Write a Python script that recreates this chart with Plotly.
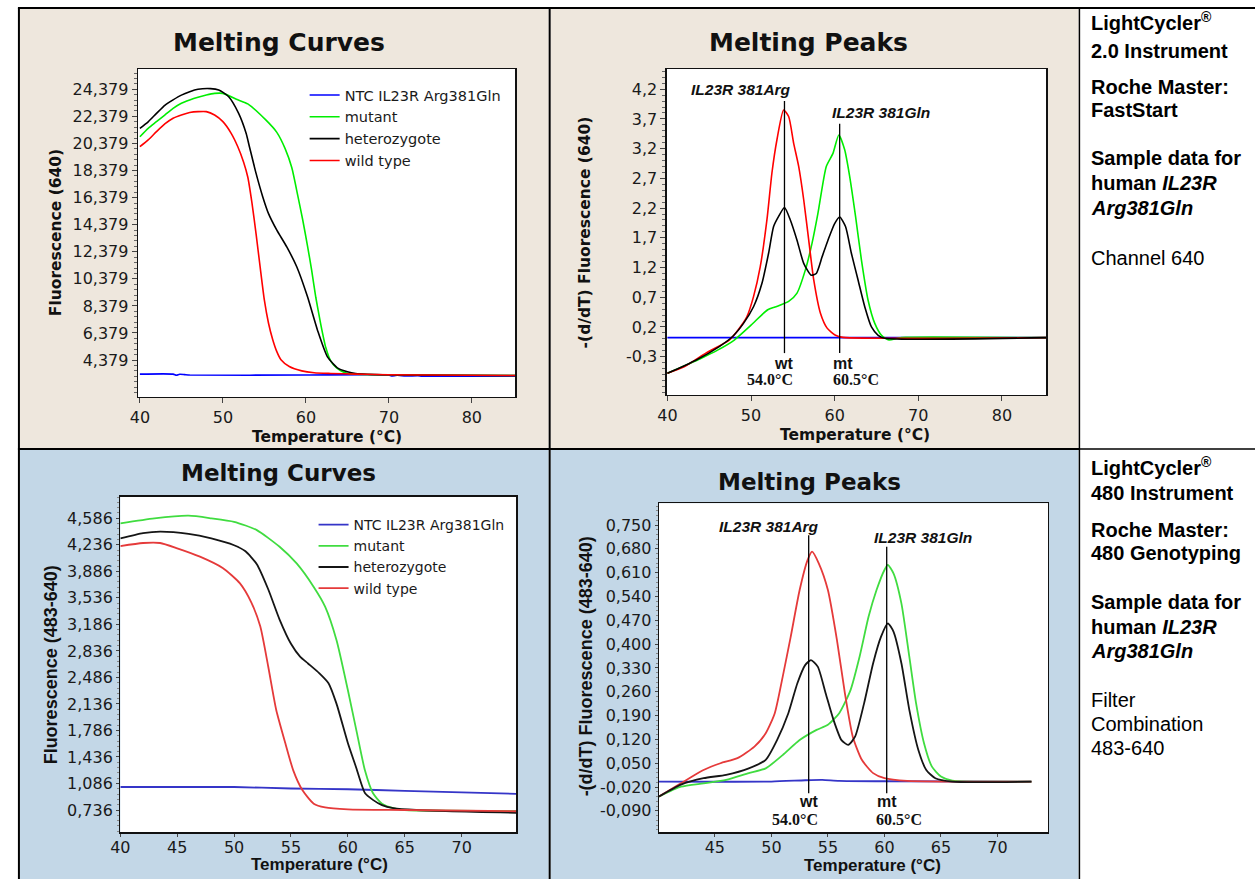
import plotly.graph_objects as go

# ---------------- DATA ----------------
legend_names = ["NTC IL23R Arg381Gln", "mutant", "heterozygote", "wild type"]

# Top-left: LightCycler 2.0 melting curves (Fluorescence 640, thousands)
tl_ntc_t = [40, 44, 44.4, 44.8, 45.4, 46, 60, 70, 70.3, 71, 72, 73.5, 74, 85.25]
tl_ntc_v = [3.34, 3.34, 3.26, 3.33, 3.3, 3.27, 3.27, 3.27, 3.2, 3.26, 3.2, 3.22, 3.19, 3.19]
tl_mut_t = [40, 41, 42, 43, 44, 45, 46, 47, 48, 49, 50, 51.8, 53, 55.2, 56.5, 57.5, 58.3, 59.0,
            59.6, 60.2, 60.7, 61.2, 61.8, 62.4, 63.0, 63.7, 64.5, 65.5, 70, 85.25]
tl_mut_v = [20.88, 21.5, 21.99, 22.48, 22.97, 23.35, 23.59, 23.79, 23.96, 24.08, 24.08, 23.6, 23.3,
            22.1, 21.2, 20.0, 18.6, 16.6, 14.8, 12.8, 11.0, 9.0, 7.0, 5.3, 4.3, 3.8, 3.5, 3.35,
            3.29, 3.24]
tl_het_t = [40, 41, 42, 43, 44, 45, 46, 47, 48.5, 49.5, 50.7, 51.9, 52.8, 53.2, 54.0, 54.8, 55.5,
            56.5, 57.7, 58.9, 60.2, 61.4, 62.6, 63.9, 65.0, 66.0, 70, 85.25]
tl_het_v = [21.5, 21.98, 22.6, 23.2, 23.6, 23.95, 24.2, 24.38, 24.43, 24.33, 23.83, 22.6, 21.13,
            20.14, 18.17, 16.45, 15.2, 13.98, 12.74, 11.27, 9.05, 6.59, 4.62, 3.76, 3.51, 3.39,
            3.29, 3.24]
tl_wt_t = [40, 41, 42, 43, 44, 45, 46, 47, 48, 49, 50, 51, 51.8, 52.5, 53, 53.5, 54, 54.5, 55,
           55.5, 56, 56.5, 57, 58, 59.5, 61, 63, 66, 70, 85.25]
tl_wt_v = [20.14, 20.64, 21.25, 21.82, 22.24, 22.48, 22.66, 22.73, 22.73, 22.48, 21.99, 21.13,
           20.14, 19.0, 17.9, 16.0, 13.7, 11.2, 8.8, 7.1, 5.9, 5.0, 4.4, 3.9, 3.58, 3.44, 3.39,
           3.34, 3.29, 3.24]
tl_ytick_vals = [4.379, 6.379, 8.379, 10.379, 12.379, 14.379, 16.379, 18.379, 20.379, 22.379, 24.379]
tl_ytick_text = ["4,379", "6,379", "8,379", "10,379", "12,379", "14,379", "16,379", "18,379",
                 "20,379", "22,379", "24,379"]
top_xtick_vals = [40, 50, 60, 70, 80]

# Top-right: LightCycler 2.0 melting peaks
tr_ntc_t = [40, 85.3]
tr_ntc_v = [0.02, 0.02]
tr_mut_t = [40, 44, 46, 48, 50, 52, 53, 54.5, 55.5, 56.5, 57.3, 58, 59, 59.8, 60.5, 61.2, 61.8,
            62.5, 63.2, 64, 64.8, 65.6, 66.5, 67.5, 68.5, 85.3]
tr_mut_v = [-0.58, -0.33, -0.19, -0.02, 0.23, 0.49, 0.54, 0.63, 0.77, 1.16, 1.61, 2.11, 2.90, 3.12,
            3.43, 3.18, 2.73, 2.06, 1.33, 0.65, 0.26, 0.06, -0.02, 0.01, 0.025, 0.02]
tr_het_t = [40, 43.4, 46.2, 47.8, 49.1, 50.3, 51.3, 52.1, 52.7, 53.3, 54.0, 54.7, 55.5, 56.3, 57.2,
            57.8, 58.5, 59.2, 60.0, 60.6, 61.3, 62.0, 62.8, 63.6, 64.4, 65.2, 66.0, 85.3]
tr_het_v = [-0.58, -0.36, -0.13, 0.04, 0.26, 0.54, 0.93, 1.44, 1.89, 2.06, 2.21, 2.0, 1.66, 1.27,
            1.07, 1.10, 1.38, 1.66, 1.94, 2.05, 1.89, 1.44, 0.99, 0.54, 0.20, 0.06, 0.01, 0.02]
tr_wt_t = [40, 42, 44.6, 47.4, 48.45, 49.5, 50.3, 51.1, 51.9, 52.5, 53.1, 53.9, 54.5, 55.1, 55.7,
           56.3, 56.9, 57.5, 58.3, 59.1, 60.1, 61.0, 85.3]
tr_wt_v = [-0.58, -0.47, -0.24, -0.02, 0.15, 0.37, 0.71, 1.21, 2.0, 2.79, 3.35, 3.85, 3.74, 3.29,
           2.9, 2.34, 1.66, 0.99, 0.43, 0.18, 0.06, 0.025, 0.02]
tr_ytick_vals = [-0.3, 0.2, 0.7, 1.2, 1.7, 2.2, 2.7, 3.2, 3.7, 4.2]
tr_ytick_text = ["-0,3", "0,2", "0,7", "1,2", "1,7", "2,2", "2,7", "3,2", "3,7", "4,2"]
tr_peak_x = [54.0, 60.6]
tr_peak_top = [4.0, 3.62]
tr_peak_bottom = [-0.24, -0.24]

# Bottom-left: LightCycler 480 melting curves (Fluorescence 483-640)
bl_ntc_t = [40, 50, 55, 60, 65, 70, 74.8]
bl_ntc_v = [1.04, 1.04, 1.02, 1.01, 0.99, 0.97, 0.95]
bl_mut_t = [40, 43, 46, 48, 50, 52, 54, 55.5, 57, 58, 59, 60, 60.8, 61.5, 62.2, 63, 64, 65, 66, 74.8]
bl_mut_v = [4.52, 4.586, 4.62, 4.586, 4.54, 4.43, 4.21, 3.99, 3.68, 3.42, 2.98, 2.32, 1.75, 1.26,
            0.96, 0.82, 0.76, 0.736, 0.73, 0.72]
bl_het_t = [40, 42, 43.5, 46, 48, 50, 51, 52, 53, 54, 55, 55.8, 56.5, 57.5, 58.3, 59, 60, 60.7,
            61.5, 62.2, 63, 64, 66, 74.8]
bl_het_v = [4.32, 4.39, 4.41, 4.38, 4.32, 4.23, 4.15, 3.98, 3.65, 3.25, 2.93, 2.76, 2.67, 2.54,
            2.41, 2.14, 1.62, 1.31, 0.96, 0.87, 0.80, 0.76, 0.736, 0.70]
bl_wt_t = [40, 42, 43.5, 45, 47, 49, 50.5, 51.5, 52.3, 53, 53.7, 54.5, 55.2, 56, 57, 58, 60, 65, 74.8]
bl_wt_v = [4.22, 4.26, 4.26, 4.19, 4.08, 3.93, 3.73, 3.48, 3.16, 2.63, 2.06, 1.62, 1.26, 1.0, 0.82,
           0.77, 0.745, 0.736, 0.72]
bl_ytick_vals = [0.736, 1.086, 1.436, 1.786, 2.136, 2.486, 2.836, 3.186, 3.536, 3.886, 4.236, 4.586]
bl_ytick_text = ["0,736", "1,086", "1,436", "1,786", "2,136", "2,486", "2,836", "3,186", "3,536",
                 "3,886", "4,236", "4,586"]
bl_xtick_vals = [40, 45, 50, 55, 60, 65, 70]

# Bottom-right: LightCycler 480 melting peaks
br_ntc_t = [40.06, 50, 53, 54.5, 56, 60, 73]
br_ntc_v = [-0.004, -0.004, 0.0, 0.001, -0.002, -0.003, -0.004]
br_mut_t = [40.06, 42, 44, 46, 48, 49.5, 51, 52.5, 54, 55, 56, 57, 57.8, 58.6, 59.3, 60, 60.3, 60.8,
            61.5, 62.2, 62.8, 63.5, 64.2, 65, 66, 73]
br_mut_v = [-0.048, -0.019, -0.009, 0.001, 0.021, 0.035, 0.074, 0.118, 0.148, 0.163, 0.197, 0.265,
            0.363, 0.481, 0.559, 0.618, 0.633, 0.608, 0.52, 0.363, 0.226, 0.109, 0.04, 0.011,
            -0.001, -0.004]
br_het_t = [40.06, 42, 44, 46, 48, 49.5, 50.5, 51.5, 52.3, 53, 53.5, 54.1, 54.8, 55.5, 56.2, 56.8,
            57.4, 58.2, 59, 59.7, 60.3, 60.8, 61.5, 62.2, 63, 63.7, 64.5, 66, 73]
br_het_v = [-0.048, -0.013, 0.006, 0.016, 0.035, 0.06, 0.118, 0.197, 0.285, 0.339, 0.353, 0.334,
            0.256, 0.177, 0.118, 0.104, 0.128, 0.226, 0.344, 0.422, 0.461, 0.437, 0.344, 0.207,
            0.089, 0.03, 0.006, -0.004, -0.004]
br_wt_t = [40.06, 42, 44, 45.5, 47, 48.5, 49.5, 50.3, 51, 51.7, 52.5, 53.2, 53.6, 54.2, 55, 55.8,
           56.5, 57.2, 58, 59, 60, 62, 73]
br_wt_v = [-0.048, -0.009, 0.03, 0.05, 0.065, 0.099, 0.138, 0.197, 0.304, 0.42, 0.559, 0.647, 0.672,
           0.637, 0.559, 0.412, 0.256, 0.128, 0.06, 0.021, 0.006, -0.002, -0.004]
br_ytick_vals = [-0.09, -0.02, 0.05, 0.12, 0.19, 0.26, 0.33, 0.40, 0.47, 0.54, 0.61, 0.68, 0.75]
br_ytick_text = ["-0,090", "-0,020", "0,050", "0,120", "0,190", "0,260", "0,330", "0,400", "0,470",
                 "0,540", "0,610", "0,680", "0,750"]
br_xtick_vals = [45, 50, 55, 60, 65, 70]
br_peak_x = [53.3, 60.2]
br_peak_top = [0.72, 0.686]
br_peak_bottom = [-0.038, -0.038]

peak_labels = ["IL23R 381Arg", "IL23R 381Gln"]
geno_labels = ["wt", "mt"]
tm_labels = ["54.0°C", "60.5°C"]

# ---------------- LAYOUT HELPERS ----------------
W, H = 1255, 879


def fx(px):
    return px / W


def fy(py):
    return 1 - py / H


BEIGE = "#EEE7DD"
BLUEBG = "#C3D7E7"
TOP_COLORS = ["#0000FF", "#00EE00", "#000000", "#FF0000"]
BOT_COLORS = ["#3535C8", "#40DC40", "#151515", "#E53A3A"]

fig = go.Figure()


def add_series(ts, vs, colors, xa, ya, legend, show, width):
    for t, v, c, n in zip(ts, vs, colors, legend_names):
        fig.add_trace(go.Scatter(
            x=t, y=v, mode="lines", name=n, xaxis=xa, yaxis=ya,
            line=dict(color=c, width=width, shape="spline", smoothing=0.6),
            showlegend=show, legend=legend, hoverinfo="skip"))


add_series([tl_ntc_t, tl_mut_t, tl_het_t, tl_wt_t], [tl_ntc_v, tl_mut_v, tl_het_v, tl_wt_v],
           TOP_COLORS, "x", "y", "legend", True, 1.6)
for t, v, c, n in [(tr_ntc_t, tr_ntc_v, TOP_COLORS[0], legend_names[0]),
                   (tr_mut_t, tr_mut_v, TOP_COLORS[1], legend_names[1]),
                   (tr_wt_t, tr_wt_v, TOP_COLORS[3], legend_names[3]),
                   (tr_het_t, tr_het_v, TOP_COLORS[2], legend_names[2])]:
    fig.add_trace(go.Scatter(x=t, y=v, mode="lines", name=n, xaxis="x2", yaxis="y2",
                             line=dict(color=c, width=1.6, shape="spline", smoothing=0.6),
                             showlegend=False, hoverinfo="skip"))
add_series([bl_ntc_t, bl_mut_t, bl_het_t, bl_wt_t], [bl_ntc_v, bl_mut_v, bl_het_v, bl_wt_v],
           BOT_COLORS, "x3", "y3", "legend2", True, 1.8)
for t, v, c, n in [(br_ntc_t, br_ntc_v, BOT_COLORS[0], legend_names[0]),
                   (br_mut_t, br_mut_v, BOT_COLORS[1], legend_names[1]),
                   (br_wt_t, br_wt_v, BOT_COLORS[3], legend_names[3]),
                   (br_het_t, br_het_v, BOT_COLORS[2], legend_names[2])]:
    fig.add_trace(go.Scatter(x=t, y=v, mode="lines", name=n, xaxis="x4", yaxis="y4",
                             line=dict(color=c, width=1.8, shape="spline", smoothing=0.6),
                             showlegend=False, hoverinfo="skip"))

# vertical peak marker lines
for xs, tops, bots, xa, ya in [(tr_peak_x, tr_peak_top, tr_peak_bottom, "x2", "y2"),
                               (br_peak_x, br_peak_top, br_peak_bottom, "x4", "y4")]:
    for xv, tp, bt in zip(xs, tops, bots):
        fig.add_trace(go.Scatter(x=[xv, xv], y=[bt, tp], mode="lines", xaxis=xa, yaxis=ya,
                                 line=dict(color="#000000", width=1.3), showlegend=False,
                                 hoverinfo="skip"))

TICKFONT = dict(family="DejaVu Sans", size=16, color="#1a1a1a")


def axis(domain, rng, anchor, **kw):
    d = dict(domain=domain, range=rng, anchor=anchor, showgrid=False, zeroline=False,
             showline=True, mirror=True, linecolor="#111111", linewidth=1.3,
             ticks="outside", ticklen=5, tickcolor="#444444", tickfont=TICKFONT,
             fixedrange=True)
    d.update(kw)
    return d


# plot area pixel boxes (window pixels)
TL = (129, 509.5, 69, 397)
TR = (662, 1044.8, 69, 395)
BL = (111.2, 510.3, 496.7, 832.3)
BR = (654.2, 1046.5, 503.3, 832.3)


def dom(box):
    x0, x1, y0, y1 = box
    return [fx(x0), fx(x1)], [fy(y1), fy(y0)]


tlx, tly = dom(TL)
trx, try_ = dom(TR)
blx, bly = dom(BL)
brx, bry = dom(BR)

fig.update_layout(
    width=W, height=H, autosize=False,
    margin=dict(l=0, r=0, t=0, b=0),
    paper_bgcolor="white", plot_bgcolor="rgba(0,0,0,0)",
    hovermode=False,
    xaxis=axis(tlx, [39.77, 85.25], "y", tickmode="array", tickvals=top_xtick_vals),
    yaxis=axis(tly, [1.65, 25.88], "x", tickmode="array", tickvals=tl_ytick_vals,
               ticktext=tl_ytick_text,
               minor=dict(ticks="outside", ticklen=3, tick0=0.379, dtick=0.4, tickcolor="#666")),
    xaxis2=axis(trx, [39.92, 85.33], "y2", tickmode="array", tickvals=top_xtick_vals),
    yaxis2=axis(try_, [-0.945, 4.54], "x2", tickmode="array", tickvals=tr_ytick_vals,
                ticktext=tr_ytick_text,
                minor=dict(ticks="outside", ticklen=3, tick0=0.2, dtick=0.1, tickcolor="#666")),
    xaxis3=axis(blx, [40, 74.8], "y3", tickmode="array", tickvals=bl_xtick_vals, ticklen=3,
                ticklabelstandoff=-3),
    yaxis3=axis(bly, [0.442, 4.871], "x3", tickmode="array", tickvals=bl_ytick_vals,
                ticktext=bl_ytick_text, ticklen=3,
                minor=dict(ticks="outside", ticklen=2, tick0=0.036, dtick=0.07, tickcolor="#888")),
    xaxis4=axis(brx, [40.06, 74.48], "y4", tickmode="array", tickvals=br_xtick_vals, ticklen=3,
                ticklabelstandoff=-3),
    yaxis4=axis(bry, [-0.153, 0.814], "x4", tickmode="array", tickvals=br_ytick_vals,
                ticktext=br_ytick_text, ticklen=3,
                minor=dict(ticks="outside", ticklen=2, tick0=0.05, dtick=0.014, tickcolor="#888")),
    legend=dict(x=fx(297), y=fy(79), xanchor="left", yanchor="top", bgcolor="rgba(0,0,0,0)",
                font=dict(family="DejaVu Sans", size=14.5, color="#1a1a1a"),
                itemwidth=30, tracegroupgap=0),
    legend2=dict(x=fx(306), y=fy(509), xanchor="left", yanchor="top", bgcolor="rgba(0,0,0,0)",
                 font=dict(family="DejaVu Sans", size=14, color="#1a1a1a"),
                 itemwidth=30, tracegroupgap=0),
    showlegend=True,
)

# ---------------- SHAPES (cells, plot backgrounds, borders) ----------------
shapes = []


def rect(x0, y0, x1, y1, color):
    shapes.append(dict(type="rect", xref="paper", yref="paper", x0=fx(x0), x1=fx(x1),
                       y0=fy(y1), y1=fy(y0), fillcolor=color, line=dict(width=0),
                       layer="below"))


def hline(x0, x1, y, w):
    shapes.append(dict(type="line", xref="paper", yref="paper", x0=fx(x0), x1=fx(x1),
                       y0=fy(y), y1=fy(y), line=dict(color="black", width=w), layer="above"))


def vline(x, y0, y1, w):
    shapes.append(dict(type="line", xref="paper", yref="paper", x0=fx(x), x1=fx(x),
                       y0=fy(y0), y1=fy(y1), line=dict(color="black", width=w), layer="above"))


rect(10, 9, 543, 448, BEIGE)
rect(545, 9, 1077, 448, BEIGE)
rect(10, 450, 543, 879, BLUEBG)
rect(545, 450, 1077, 879, BLUEBG)
for b in (TL, TR, BL, BR):
    rect(b[0], b[2], b[1], b[3], "white")

hline(8, 1255, 8, 2)
vline(9, 8, 879, 2)
vline(544, 8, 879, 2)
hline(8, 1078, 449, 2)
hline(1078, 1255, 449, 1.3)
vline(1078, 8, 879, 1.5)
fig.update_layout(shapes=shapes)

# ---------------- ANNOTATIONS ----------------
ann = []


def text(x, y, s, size, family="DejaVu Sans", color="#111111", xanchor="center",
         yanchor="middle", angle=0, xref="paper", yref="paper"):
    ann.append(dict(x=x, y=y, xref=xref, yref=yref, text=s, showarrow=False,
                    font=dict(family=family, size=size, color=color), xanchor=xanchor,
                    yanchor=yanchor, textangle=angle))


# panel titles
text(fx(271), fy(43), "<b>Melting Curves</b>", 25)
text(fx(805), fy(43), "<b>Melting Peaks</b>", 25)
text(fx(271), fy(473), "<b>Melting Curves</b>", 23)
text(fx(806), fy(482), "<b>Melting Peaks</b>", 23)

# axis titles
text(fx(320), fy(437), "<b>Temperature (°C)</b>", 15.5)
text(fx(46.5), fy(233), "<b>Fluorescence (640)</b>", 15.5, angle=-90)
text(fx(852), fy(435), "<b>Temperature (°C)</b>", 15.5)
text(fx(580), fy(232), "<b>-(d/dT) Fluorescence (640)</b>", 15.5, angle=-90)
text(fx(312), fy(864), "<b>Temperature (°C)</b>", 17, family="Liberation Sans")
text(fx(41.7), fy(665), "<b>Fluorescence (483-640)</b>", 18, family="Liberation Sans", angle=-90)
text(fx(869), fy(865), "<b>Temperature (°C)</b>", 17, family="Liberation Sans")
text(fx(581), fy(666), "<b>-(d/dT) Fluorescence (483-640)</b>", 18, family="Liberation Sans",
     angle=-90)

# peak annotations
for (lx, ly), lab in zip([(48.85, 4.2), (65.5, 3.8)], peak_labels):
    text(lx, ly, "<b><i>%s</i></b>" % lab, 15.5, family="Liberation Sans", xref="x2", yref="y2")
for (gx, tx), g, tm in zip([(53.9, 52.3), (61.0, 62.5)], geno_labels, tm_labels):
    text(gx, -0.41, "<b>%s</b>" % g, 16, family="Liberation Sans", xref="x2", yref="y2")
    text(tx, -0.69, "<b>%s</b>" % tm, 16, family="Liberation Serif", xref="x2", yref="y2")
for (lx, ly), lab in zip([(49.8, 0.745), (63.4, 0.714)], peak_labels):
    text(lx, ly, "<b><i>%s</i></b>" % lab, 15.5, family="Liberation Sans", xref="x4", yref="y4")
for (gx, tx), g, tm in zip([(53.3, 52.1), (60.2, 61.3)], geno_labels, tm_labels):
    text(gx, -0.063, "<b>%s</b>" % g, 16, family="Liberation Sans", xref="x4", yref="y4")
    text(tx, -0.115, "<b>%s</b>" % tm, 16, family="Liberation Serif", xref="x4", yref="y4")

# right text column
top_lines = [("<b>LightCycler<sup>®</sup></b>", 22), ("<b>2.0 Instrument</b>", 51),
             ("<b>Roche Master:</b>", 87), ("<b>FastStart</b>", 110),
             ("<b>Sample data for</b>", 158), ("<b>human <i>IL23R</i></b>", 183),
             ("<b><i>Arg381Gln</i></b>", 208), ("Channel 640", 258)]
bot_lines = [("<b>LightCycler<sup>®</sup></b>", 466), ("<b>480 Instrument</b>", 493),
             ("<b>Roche Master:</b>", 530), ("<b>480 Genotyping</b>", 553),
             ("<b>Sample data for</b>", 602), ("<b>human <i>IL23R</i></b>", 627),
             ("<b><i>Arg381Gln</i></b>", 651), ("Filter", 700), ("Combination", 724),
             ("483-640", 748)]
for s, y in top_lines + bot_lines:
    text(fx(1088), fy(y), s, 20, family="Liberation Sans", color="#000000", xanchor="left")

fig.update_layout(annotations=ann)

fig.write_html(
    "out.html",
    config={"displayModeBar": False, "staticPlot": True},
    post_script="document.body.style.margin='0';"
                "document.documentElement.style.overflow='hidden';",
)
